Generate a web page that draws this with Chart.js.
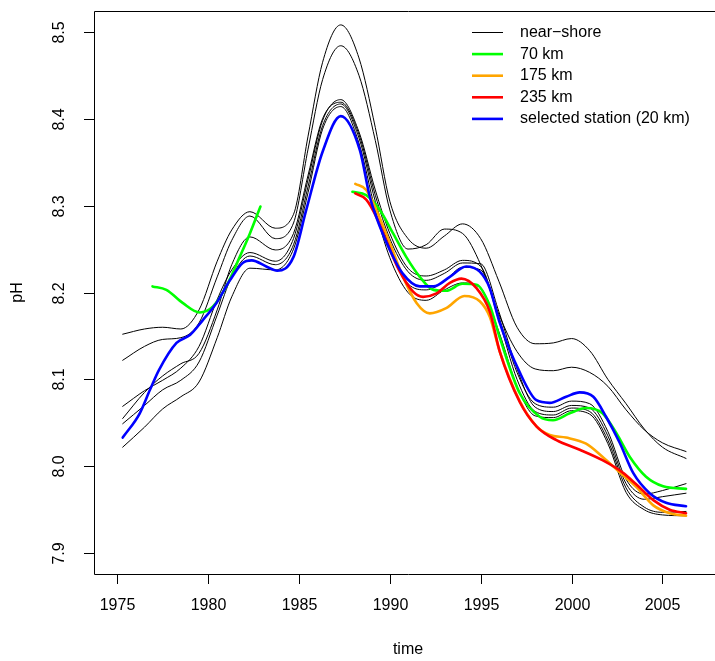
<!DOCTYPE html>
<html>
<head>
<meta charset="utf-8">
<script src="https://cdn.jsdelivr.net/npm/chart.js@4.4.0/dist/chart.umd.min.js"></script>
<style>
  html, body { margin: 0; padding: 0; background: #fff; }
  #wrap { width: 715px; height: 661px; overflow: hidden; position: relative; }
</style>
</head>
<body>
<div id="wrap"><canvas id="c" width="740" height="661" style="width:740px;height:661px"></canvas></div>
<script>
// ---------------- data ----------------
const xTickValues = [1975, 1980, 1985, 1990, 1995, 2000, 2005];
const yTickValues = [7.9, 8.0, 8.1, 8.2, 8.3, 8.4, 8.5];
const yTickLabels = ['7.9', '8.0', '8.1', '8.2', '8.3', '8.4', '8.5'];
const legendLabels = ['near\u2212shore', '70 km', '175 km', '235 km', 'selected station (20 km)'];
const seriesColors = ['#000000', '#00ff00', '#ffa500', '#ff0000', '#0000ff'];

// near-shore stations (black), common time grid
const nearShoreTimes = [1975.3, 1976.5, 1977.5, 1978.5, 1979.5, 1980.5, 1981.3, 1982.3, 1983.7, 1984.7, 1985.5, 1986.3, 1987.3, 1988.3, 1989.2, 1990, 1991, 1992, 1993, 1994, 1995, 1996, 1997, 1998, 1999, 2000, 2001, 2002, 2003, 2004, 2005, 2006.3];
const nearShoreA = [8.152, 8.158, 8.160, 8.158, 8.180, 8.236, 8.272, 8.293, 8.274, 8.290, 8.380, 8.465, 8.508, 8.470, 8.390, 8.305, 8.262, 8.251, 8.265, 8.279, 8.262, 8.213, 8.160, 8.141, 8.142, 8.147, 8.133, 8.100, 8.072, 8.043, 8.022, 8.009];
const nearShoreB = [8.122, 8.138, 8.146, 8.148, 8.165, 8.218, 8.260, 8.288, 8.262, 8.280, 8.365, 8.445, 8.484, 8.450, 8.375, 8.295, 8.250, 8.255, 8.273, 8.268, 8.232, 8.175, 8.132, 8.112, 8.110, 8.114, 8.108, 8.092, 8.065, 8.042, 8.027, 8.017];
const nearShoreC = [8.069, 8.087, 8.099, 8.113, 8.138, 8.192, 8.226, 8.246, 8.236, 8.262, 8.330, 8.398, 8.422, 8.385, 8.318, 8.268, 8.228, 8.219, 8.226, 8.237, 8.230, 8.172, 8.108, 8.072, 8.068, 8.075, 8.072, 8.040, 7.985, 7.968, 7.972, 7.980];
const nearShoreD = [8.055, 8.085, 8.104, 8.118, 8.130, 8.180, 8.232, 8.264, 8.249, 8.268, 8.335, 8.400, 8.419, 8.382, 8.312, 8.262, 8.224, 8.214, 8.222, 8.234, 8.233, 8.178, 8.112, 8.068, 8.063, 8.070, 8.067, 8.035, 7.980, 7.962, 7.965, 7.969];
const nearShoreE = [8.049, 8.070, 8.088, 8.099, 8.120, 8.174, 8.218, 8.242, 8.232, 8.255, 8.322, 8.392, 8.417, 8.378, 8.305, 8.252, 8.210, 8.203, 8.213, 8.229, 8.226, 8.168, 8.100, 8.063, 8.059, 8.067, 8.063, 8.030, 7.975, 7.953, 7.947, 7.948];
const nearShoreF = [8.022, 8.045, 8.066, 8.080, 8.097, 8.148, 8.195, 8.228, 8.226, 8.250, 8.315, 8.388, 8.414, 8.372, 8.295, 8.240, 8.200, 8.191, 8.203, 8.211, 8.205, 8.155, 8.092, 8.058, 8.056, 8.064, 8.060, 8.026, 7.970, 7.950, 7.944, 7.943];

// 70 km (green), two segments separated by a gap (null)
const km70Times  = [1976.94, 1977.7, 1978.6, 1979.54, 1980.27, 1981.0, 1981.74, 1982.3, 1982.88, 1985.0, 1987.94, 1988.7, 1989.45, 1990.18, 1990.9, 1991.65, 1992.4, 1993.1, 1994.0, 1994.77, 1995.5, 1996.05, 1997.15, 1998.25, 1998.98, 1999.9, 2000.8, 2001.7, 2002.47, 2003.2, 2004.1, 2005.04, 2006.3];
const km70Values = [8.207, 8.203, 8.188, 8.177, 8.184, 8.207, 8.241, 8.268, 8.299, null, 8.316, 8.312, 8.295, 8.268, 8.241, 8.218, 8.203, 8.202, 8.210, 8.209, 8.185, 8.148, 8.084, 8.057, 8.053, 8.061, 8.067, 8.061, 8.038, 8.011, 7.988, 7.977, 7.974];

// 175 km (orange)
const km175Times  = [1988.1, 1988.7, 1989.26, 1990.0, 1990.73, 1991.47, 1992.2, 1993.1, 1994.1, 1994.95, 1995.5, 1996.05, 1997.15, 1998.07, 1998.8, 1999.7, 2000.8, 2001.7, 2002.6, 2003.57, 2004.5, 2005.4, 2006.3];
const km175Values = [8.325, 8.318, 8.295, 8.257, 8.218, 8.188, 8.176, 8.182, 8.196, 8.190, 8.172, 8.132, 8.075, 8.046, 8.036, 8.033, 8.026, 8.011, 7.994, 7.976, 7.955, 7.946, 7.943];

// 235 km (red)
const km235Times  = [1988.1, 1988.7, 1989.26, 1989.8, 1990.5, 1991.28, 1991.83, 1992.57, 1993.3, 1993.94, 1994.77, 1995.5, 1996.05, 1997.15, 1998.07, 1999.17, 2000.45, 2001.7, 2002.8, 2003.57, 2004.5, 2005.4, 2006.3];
const km235Values = [8.314, 8.307, 8.287, 8.260, 8.226, 8.201, 8.195, 8.199, 8.211, 8.216, 8.205, 8.178, 8.132, 8.074, 8.046, 8.030, 8.019, 8.007, 7.993, 7.979, 7.961, 7.950, 7.946];

// selected station 20 km (blue)
const km20Times  = [1975.3, 1976.24, 1976.8, 1977.3, 1978.26, 1979.0, 1979.7, 1980.46, 1981.2, 1981.9, 1982.4, 1983.2, 1983.8, 1984.7, 1985.4, 1986.3, 1987.3, 1988.35, 1988.9, 1989.45, 1990.0, 1990.7, 1991.65, 1992.4, 1993.3, 1994.2, 1994.95, 1995.5, 1996.05, 1997.15, 1998.07, 1998.8, 1999.7, 2000.45, 2001.2, 2001.9, 2002.65, 2003.4, 2004.3, 2005.2, 2006.3];
const km20Values = [8.033, 8.061, 8.088, 8.111, 8.142, 8.151, 8.168, 8.188, 8.214, 8.234, 8.237, 8.230, 8.225, 8.241, 8.295, 8.362, 8.403, 8.364, 8.310, 8.276, 8.249, 8.222, 8.207, 8.207, 8.218, 8.230, 8.224, 8.205, 8.165, 8.108, 8.076, 8.073, 8.080, 8.085, 8.080, 8.057, 8.027, 7.992, 7.969, 7.958, 7.954];

// axis ranges
const xMin = 1973.72, xMax = 2008.28;
const yMin = 7.876, yMax = 8.524;

// ---------------- build datasets ----------------
function zip(xs, ys) { return xs.map((x, i) => ({ x: x, y: ys[i] })); }

const blackSeries = [nearShoreA, nearShoreB, nearShoreC, nearShoreD, nearShoreE, nearShoreF];
const datasets = [];
datasets.push({ label: legendLabels[4], data: zip(km20Times, km20Values), borderColor: seriesColors[4], borderWidth: 2.6, order: 0 });
datasets.push({ label: legendLabels[3], data: zip(km235Times, km235Values), borderColor: seriesColors[3], borderWidth: 2.6, order: 1 });
datasets.push({ label: legendLabels[2], data: zip(km175Times, km175Values), borderColor: seriesColors[2], borderWidth: 2.6, order: 2 });
datasets.push({ label: legendLabels[1], data: zip(km70Times, km70Values), borderColor: seriesColors[1], borderWidth: 2.6, order: 3 });
blackSeries.forEach((vals, i) => {
  datasets.push({ label: legendLabels[0], data: zip(nearShoreTimes, vals), borderColor: seriesColors[0], borderWidth: 1, order: 4 + i });
});
datasets.forEach(d => {
  d.fill = false; d.pointRadius = 0; d.pointHoverRadius = 0; d.spanGaps = false;
  d.cubicInterpolationMode = 'monotone'; d.borderCapStyle = 'round'; d.borderJoinStyle = 'round';
});

const FONT = '16px "Liberation Sans", Arial, Helvetica, sans-serif';

const rAxesPlugin = {
  id: 'rAxes',
  afterDraw(chart) {
    const ctx = chart.ctx;
    const a = chart.chartArea;
    const xs = chart.scales.x, ys = chart.scales.y;
    ctx.save();
    ctx.strokeStyle = '#000';
    ctx.lineWidth = 1;
    // box (right side lies outside the visible page)
    ctx.beginPath();
    ctx.rect(Math.round(a.left) + 0.5, Math.round(a.top) + 0.5, Math.round(a.right - a.left), Math.round(a.bottom - a.top));
    ctx.stroke();
    ctx.fillStyle = '#000';
    ctx.font = FONT;
    // x ticks
    ctx.textAlign = 'center';
    ctx.textBaseline = 'middle';
    xTickValues.forEach(v => {
      const px = Math.round(xs.getPixelForValue(v)) + 0.5;
      ctx.beginPath();
      ctx.moveTo(px, a.bottom);
      ctx.lineTo(px, a.bottom + 10);
      ctx.stroke();
      ctx.fillText(String(v), px, a.bottom + 32);
    });
    // y ticks
    yTickValues.forEach((v, i) => {
      const py = Math.round(ys.getPixelForValue(v)) + 0.5;
      ctx.beginPath();
      ctx.moveTo(a.left, py);
      ctx.lineTo(a.left - 10, py);
      ctx.stroke();
      ctx.save();
      ctx.translate(a.left - 34, py);
      ctx.rotate(-Math.PI / 2);
      ctx.fillText(yTickLabels[i], 0, 0);
      ctx.restore();
    });
    // axis titles
    ctx.fillText('time', (a.left + a.right) / 2, a.bottom + 76);
    ctx.save();
    ctx.translate(18, (a.top + a.bottom) / 2);
    ctx.rotate(-Math.PI / 2);
    ctx.fillText('pH', 0, 0);
    ctx.restore();
    // legend (no box)
    const lx0 = 472, lx1 = 503, tx = 520, ly0 = 32.5, dy = 21.6;
    ctx.textAlign = 'left';
    legendLabels.forEach((lab, i) => {
      const ly = ly0 + i * dy;
      ctx.beginPath();
      ctx.strokeStyle = seriesColors[i];
      ctx.lineWidth = i === 0 ? 1 : 2.6;
      ctx.moveTo(lx0, ly);
      ctx.lineTo(lx1, ly);
      ctx.stroke();
      ctx.fillStyle = '#000';
      ctx.fillText(lab, tx, ly);
    });
    ctx.restore();
  }
};

new Chart(document.getElementById('c'), {
  type: 'line',
  data: { datasets: datasets },
  options: {
    responsive: false,
    animation: false,
    devicePixelRatio: 1,
    layout: { padding: { left: 0, top: 11, right: 18, bottom: 0 } },
    plugins: { legend: { display: false }, tooltip: { enabled: false }, title: { display: false } },
    elements: { line: { tension: 0.4 } },
    scales: {
      x: {
        type: 'linear', min: xMin, max: xMax,
        grid: { display: false }, border: { display: false },
        ticks: { display: false },
        afterFit(s) { s.height = 87; }
      },
      y: {
        type: 'linear', min: yMin, max: yMax,
        grid: { display: false }, border: { display: false },
        ticks: { display: false },
        afterFit(s) { s.width = 94; }
      }
    }
  },
  plugins: [rAxesPlugin]
});
</script>
</body>
</html>
